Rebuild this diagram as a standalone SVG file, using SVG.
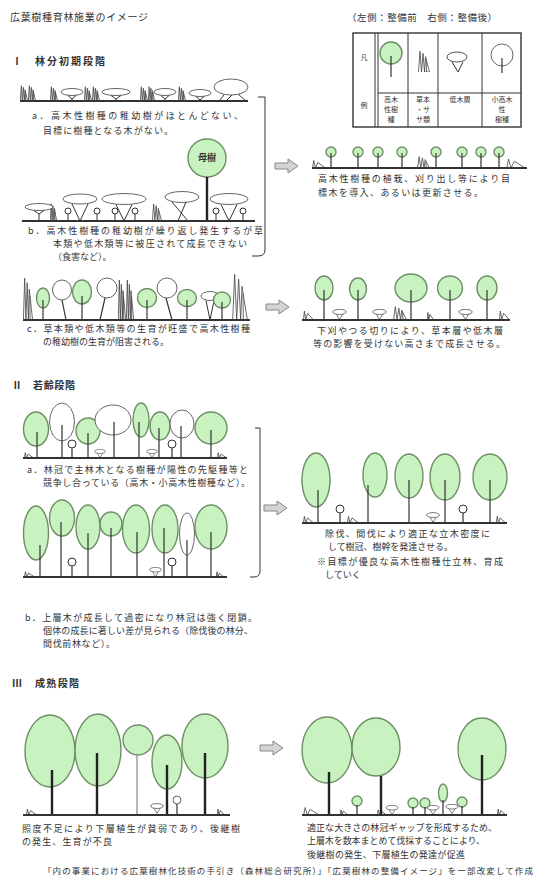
<svg xmlns="http://www.w3.org/2000/svg" width="537" height="894" viewBox="0 0 537 894">
<style>
  .g{fill:#c8f2c0;stroke:#6e8f66;stroke-width:1.4}
  .w{fill:#fff;stroke:#666;stroke-width:1}
  .t{stroke:#333;stroke-width:1.2;fill:none}
  .tg{stroke:#888;stroke-width:1.2;fill:none}
  .tk{stroke:#222;stroke-width:2.4;fill:none}
  .gnd{stroke:#333;stroke-width:2.2}
  .ln{stroke:#333;stroke-width:1;fill:none}
  .txt{font-family:"Noto Sans CJK JP","Noto Sans CJK SC",sans-serif;font-size:9px;fill:#333}
  .hd{font-size:10px;font-weight:bold}
  .sm{font-size:7px}
  .arw{fill:#d4d4d4;stroke:#888;stroke-width:1}
  .gr{fill:none;stroke:#444;stroke-width:0.8}
</style>
<defs>
  <!-- tall grass / bamboo-grass clump -->
  <symbol id="grass" viewBox="0 0 12 20" preserveAspectRatio="none">
    <path class="gr" vector-effect="non-scaling-stroke" d="M0.5,20 L2,1 L3.5,20 M3.5,20 L5,3 L6.5,20 M6.5,20 L11.5,20 L7.5,6 Z M8.5,20 L8.2,9"/>
  </symbol>
  <!-- low grass at ground level -->
  <symbol id="low" viewBox="0 0 12 8" preserveAspectRatio="none">
    <path class="gr" vector-effect="non-scaling-stroke" d="M0.5,8 L1.5,2 L3,8 M3,8 L11.5,8 L5,3.5 Z"/>
  </symbol>
  <!-- small shrub -->
  <symbol id="shrub" viewBox="0 0 16 12">
    <ellipse cx="8" cy="3.2" rx="7.3" ry="2.8" fill="#fff" stroke="#555" stroke-width="0.9"/>
    <path d="M4.5,5.8 L8,11.5 L11.5,5.8" fill="none" stroke="#555" stroke-width="0.9"/>
  </symbol>
  <!-- hollow block arrow -->
  <path id="arrow" class="arw" d="M0,4 H13 V0 L23,7 L13,14 V10 H0 Z"/>
</defs>

<!-- headings -->
<g id="titles" class="txt">
  <text x="10" y="21" font-size="10" textLength="138" lengthAdjust="spacing">広葉樹種育林施業のイメージ</text>
  <text x="347" y="21" font-size="9.5" textLength="150" lengthAdjust="spacing">（左側：整備前　右側：整備後）</text>
  <text x="12" y="65" class="hd">Ⅰ</text>
  <text x="35" y="65" class="hd" textLength="70" lengthAdjust="spacing">林分初期段階</text>
  <text x="12" y="389" class="hd">Ⅱ</text>
  <text x="33" y="389" class="hd" textLength="42" lengthAdjust="spacing">若齢段階</text>
  <text x="12" y="687" class="hd">Ⅲ</text>
  <text x="35" y="687" class="hd" textLength="44" lengthAdjust="spacing">成熟段階</text>
</g>

<!-- legend table -->
<g id="legend">
  <rect x="353" y="33" width="168" height="94" fill="#fff" stroke="#333" stroke-width="1.4"/>
  <path class="ln" d="M375,33 V127 M378,33 V127 M408,33 V127 M438,33 V127 M482,33 V127 M378,93 H521"/>
  <circle class="g" cx="391" cy="53" r="11"/>
  <path class="t" d="M391,56 V77"/>
  <use href="#grass" x="418" y="50" width="12" height="22"/>
  <ellipse cx="457" cy="57" rx="10" ry="5" fill="#fff" stroke="#555"/>
  <path class="ln" d="M452,62 L458,72 L463,62"/>
  <circle class="w" cx="502" cy="55" r="11"/>
  <path class="t" d="M502,58 V73"/>
  <g class="txt sm" text-anchor="middle">
    <text x="364" y="60">凡</text>
    <text x="364" y="108">例</text>
    <text x="391" y="102">高木</text>
    <text x="391" y="112">性樹</text>
    <text x="391" y="122">種</text>
    <text x="423" y="102">草本</text>
    <text x="423" y="112">・サ</text>
    <text x="423" y="122">サ類</text>
    <text x="460" y="102">低木層</text>
    <text x="502" y="102">小高木</text>
    <text x="502" y="112">性</text>
    <text x="502" y="122">樹種</text>
  </g>
</g>

<!-- I-a : grass and shrubs only -->
<g id="stage1-a">
  <use href="#grass" x="20" y="85" width="8" height="16"/>
  <use href="#grass" x="28" y="85" width="8" height="16"/>
  <use href="#grass" x="50" y="86" width="8" height="15"/>
  <use href="#grass" x="84" y="86" width="8" height="15"/>
  <use href="#grass" x="92" y="86" width="8" height="15"/>
  <use href="#grass" x="140" y="86" width="8" height="15"/>
  <use href="#grass" x="148" y="86" width="7" height="15"/>
  <use href="#grass" x="178" y="86" width="8" height="15"/>
  <ellipse class="w" cx="72" cy="92" rx="11" ry="3.5"/>
  <path class="ln" d="M68,95.5 L72,99 L76,95.5 M72,99 V101"/>
  <ellipse class="w" cx="116" cy="92" rx="14" ry="3.5"/>
  <path class="ln" d="M111,95.5 L116,99 L121,95.5 M116,99 V101"/>
  <ellipse class="w" cx="165" cy="92" rx="11" ry="3.5"/>
  <path class="ln" d="M161,95.5 L165,99 L169,95.5 M165,99 V101"/>
  <ellipse class="w" cx="200" cy="93" rx="11" ry="3.5"/>
  <path class="ln" d="M196,96.5 L200,100 L204,96.5"/>
  <ellipse class="w" cx="231" cy="87" rx="17" ry="8"/>
  <path class="ln" d="M224,95 L219,101 M232,95 L226,101 M238,94 L246,101"/>
  <line class="gnd" x1="20" y1="101" x2="248" y2="101"/>
  <g class="txt">
    <text x="32" y="119" textLength="211" lengthAdjust="spacing">a．高木性樹種の稚幼樹がほとんどない、</text>
    <text x="43" y="134" textLength="130" lengthAdjust="spacing">目標に樹種となる木がない。</text>
  </g>
</g>

<!-- I-b : suppressed seedlings with a mother tree -->
<g id="stage1-b">
  <use href="#grass" x="50" y="203" width="7" height="18"/>
  <use href="#grass" x="152" y="203" width="10" height="18"/>
  <ellipse class="w" cx="39" cy="207" rx="14" ry="3.5"/>
  <path class="ln" d="M34,210.5 L39,214 L44,210.5 M39,214 V221"/>
  <ellipse class="w" cx="80" cy="199" rx="17" ry="5"/>
  <path class="ln" d="M72,204 L80,221 M88,204 L80,221"/>
  <ellipse class="w" cx="124" cy="199" rx="22" ry="5.5"/>
  <path class="ln" d="M116,204.5 L124,221 M132,204.5 L124,221"/>
  <ellipse class="w" cx="182" cy="197" rx="17" ry="5.5"/>
  <path class="ln" d="M172,202 L188,221 M186,202 L178,221"/>
  <ellipse class="w" cx="229" cy="199" rx="19" ry="5.5"/>
  <path class="ln" d="M221,204.5 L229,221 M237,204.5 L229,221"/>
  <g class="ln">
    <circle cx="68" cy="211" r="3" fill="#fff"/><path d="M68,214 V221"/>
    <circle cx="97" cy="211" r="3" fill="#fff"/><path d="M97,214 V221"/>
    <circle cx="115" cy="211" r="3" fill="#fff"/><path d="M115,214 V221"/>
    <circle cx="135" cy="211" r="3" fill="#fff"/><path d="M135,214 V221"/>
    <circle cx="216" cy="211" r="3" fill="#fff"/><path d="M216,214 V221"/>
    <circle cx="243" cy="211" r="3" fill="#fff"/><path d="M243,214 V221"/>
  </g>
  <circle class="g" cx="207" cy="158" r="19"/>
  <text class="txt" x="207" y="161" text-anchor="middle" font-weight="bold">母樹</text>
  <path class="tk" d="M207,177 V221"/>
  <line class="gnd" x1="22" y1="221" x2="255" y2="221"/>
  <g class="txt">
    <text x="28" y="234" textLength="235" lengthAdjust="spacing">b．高木性樹種の稚幼樹が繰り返し発生するが草</text>
    <text x="53" y="247" textLength="194" lengthAdjust="spacing">本類や低木類等に被圧されて成長できない</text>
    <text x="53" y="260">（食害など）。</text>
  </g>
</g>

<!-- I-ab after treatment -->
<g id="stage1-ab-after">
  <use href="#low" x="312" y="158" width="14" height="10"/>
  <use href="#grass" x="417" y="156" width="13" height="12"/>
  <use href="#low" x="506" y="156" width="20" height="12"/>
  <g class="g">
    <circle cx="331" cy="152" r="5"/><circle cx="358" cy="152" r="5"/>
    <circle cx="378" cy="152" r="5"/><circle cx="402" cy="152" r="5"/>
    <circle cx="436" cy="152" r="5"/><circle cx="462" cy="152" r="5"/>
    <circle cx="481" cy="152" r="5"/><circle cx="499" cy="152" r="5"/>
  </g>
  <path class="t" d="M331,153 V168 M358,153 V168 M378,153 V168 M402,153 V168 M436,153 V168 M462,153 V168 M481,153 V168 M499,153 V168"/>
  <line class="gnd" x1="312" y1="168" x2="527" y2="168"/>
  <g class="txt">
    <text x="318" y="182" textLength="192" lengthAdjust="spacing">高木性樹種の植栽、刈り出し等により目</text>
    <text x="318" y="196" textLength="165" lengthAdjust="spacing">標木を導入、あるいは更新させる。</text>
  </g>
</g>

<!-- I-c : dense herbs and shrubs -->
<g id="stage1-c">
  <use href="#grass" x="23" y="276" width="10" height="44"/>
  <use href="#grass" x="118" y="278" width="8" height="42"/>
  <use href="#grass" x="126" y="278" width="8" height="42"/>
  <use href="#grass" x="232" y="272" width="16" height="48"/>
  <ellipse class="g" cx="43" cy="298" rx="6.5" ry="10"/>
  <path class="t" d="M43,300 V320"/>
  <ellipse class="w" cx="62" cy="290" rx="9.5" ry="10"/>
  <path class="t" d="M62,300 L66,320"/>
  <ellipse class="g" cx="82" cy="292" rx="9.5" ry="12"/>
  <path class="t" d="M82,296 V320"/>
  <ellipse class="w" cx="107" cy="288" rx="10" ry="10"/>
  <path class="t" d="M105,298 L100,320"/>
  <ellipse class="g" cx="147" cy="298" rx="9.5" ry="9.5"/>
  <path class="t" d="M147,300 V320"/>
  <ellipse class="w" cx="167" cy="288" rx="10" ry="10"/>
  <path class="t" d="M166,298 L172,320"/>
  <ellipse class="g" cx="187" cy="298" rx="9.5" ry="8.5"/>
  <path class="t" d="M187,300 V320"/>
  <ellipse class="w" cx="210" cy="296" rx="9" ry="4.5"/>
  <path class="ln" d="M206,300.5 L210,320 M214,300.5 L210,320"/>
  <ellipse class="g" cx="222" cy="300" rx="8.5" ry="8"/>
  <path class="t" d="M222,302 V320"/>
  <line class="gnd" x1="23" y1="320" x2="250" y2="320"/>
  <g class="txt">
    <text x="27" y="332" textLength="223" lengthAdjust="spacing">c．草本類や低木類等の生育が旺盛で高木性樹種</text>
    <text x="43" y="345">の稚幼樹の生育が阻害される。</text>
  </g>
</g>

<!-- I-c after weeding -->
<g id="stage1-c-after">
  <use href="#low" x="303" y="308" width="11" height="12"/>
  <use href="#grass" x="393" y="306" width="14" height="14"/>
  <use href="#low" x="427" y="310" width="7" height="10"/>
  <use href="#low" x="499" y="308" width="11" height="12"/>
  <use href="#shrub" x="332" y="309" width="15" height="11"/>
  <use href="#shrub" x="372" y="309" width="15" height="11"/>
  <use href="#shrub" x="458" y="309" width="15" height="11"/>
  <ellipse class="g" cx="324" cy="288" rx="9" ry="12"/>
  <ellipse class="g" cx="358" cy="289" rx="8.5" ry="11"/>
  <ellipse class="g" cx="411" cy="288" rx="16" ry="14"/>
  <ellipse class="g" cx="450" cy="288" rx="12.5" ry="12"/>
  <ellipse class="g" cx="487" cy="288" rx="10" ry="12"/>
  <path class="t" d="M324,290 V320 M358,290 V320 M411,290 V320 M450,290 V320 M487,290 V320"/>
  <line class="gnd" x1="302" y1="320" x2="510" y2="320"/>
  <g class="txt">
    <text x="317" y="334" textLength="186" lengthAdjust="spacing">下刈やつる切りにより、草本層や低木層</text>
    <text x="313" y="347" textLength="192" lengthAdjust="spacing">等の影響を受けない高さまで成長させる。</text>
  </g>
</g>

<!-- II-a : competing with pioneer trees -->
<g id="stage2-a">
  <use href="#low" x="24" y="451" width="10" height="7"/>
  <use href="#low" x="217" y="451" width="10" height="7"/>
  <use href="#shrub" x="94" y="449" width="12" height="9"/>
  <use href="#shrub" x="146" y="449" width="12" height="9"/>
  <ellipse class="g" cx="36" cy="429" rx="12.5" ry="17"/>
  <ellipse class="w" cx="62" cy="422" rx="12.5" ry="19"/>
  <ellipse class="g" cx="88" cy="431" rx="12" ry="13"/>
  <ellipse class="w" cx="113" cy="420" rx="18" ry="15"/>
  <ellipse class="g" cx="141" cy="420" rx="8" ry="17"/>
  <ellipse class="g" cx="160" cy="426" rx="10" ry="14"/>
  <ellipse class="w" cx="182" cy="424" rx="12" ry="14"/>
  <ellipse class="g" cx="211" cy="428" rx="16" ry="16"/>
  <g class="ln">
    <circle cx="72" cy="444" r="4" fill="#fff"/>
    <circle cx="172" cy="444" r="4" fill="#fff"/>
  </g>
  <path class="t" d="M37,432 V458 M62,425 V458 M88,433 V458 M114,422 V458 M139,422 V458 M159,428 V458 M181,426 V458 M211,430 V458 M72,448 V458 M172,448 V458"/>
  <line class="gnd" x1="23" y1="458" x2="227" y2="458"/>
  <g class="txt">
    <text x="27" y="473" textLength="221" lengthAdjust="spacing">a．林冠で主林木となる樹種が陽性の先駆種等と</text>
    <text x="43" y="486" textLength="207" lengthAdjust="spacing">競争し合っている（高木・小高木性樹種など）。</text>
  </g>
</g>

<!-- II-b : closed, overcrowded canopy -->
<g id="stage2-b">
  <use href="#low" x="24" y="570" width="11" height="7"/>
  <use href="#low" x="216" y="570" width="8" height="7"/>
  <use href="#shrub" x="149" y="567" width="13" height="10"/>
  <ellipse class="g" cx="36" cy="533" rx="12.5" ry="27"/>
  <ellipse class="g" cx="62" cy="518" rx="12.5" ry="18"/>
  <ellipse class="g" cx="88" cy="527" rx="12" ry="22"/>
  <ellipse class="g" cx="111" cy="524" rx="11" ry="12"/>
  <ellipse class="g" cx="136" cy="529" rx="13.5" ry="24"/>
  <ellipse class="g" cx="165" cy="529" rx="13" ry="24"/>
  <ellipse class="w" cx="187" cy="534" rx="7.5" ry="21"/>
  <ellipse class="g" cx="211" cy="527" rx="16" ry="22"/>
  <g class="ln">
    <circle cx="72" cy="562" r="4" fill="#fff"/>
    <circle cx="172" cy="562" r="4" fill="#fff"/>
  </g>
  <path class="t" d="M40,545 V577 M61,522 V577 M88,533 V577 M111,528 V577 M137,532 V577 M164,528 V577 M187,540 V577 M211,532 V577 M72,566 V577 M172,566 V577"/>
  <line class="gnd" x1="23" y1="577" x2="227" y2="577"/>
  <g class="txt">
    <text x="25" y="621" textLength="232" lengthAdjust="spacing">b．上層木が成長して過密になり林冠は強く閉鎖。</text>
    <text x="43" y="634" textLength="210" lengthAdjust="spacing">個体の成長に著しい差が見られる（除伐後の林分、</text>
    <text x="43" y="647" textLength="72" lengthAdjust="spacing">間伐前林など）。</text>
  </g>
</g>

<!-- II after thinning -->
<g id="stage2-after">
  <use href="#low" x="303" y="514" width="11" height="9"/>
  <use href="#low" x="347" y="514" width="12" height="9"/>
  <use href="#low" x="496" y="514" width="10" height="9"/>
  <use href="#shrub" x="426" y="512" width="14" height="11"/>
  <ellipse class="g" cx="316" cy="480" rx="14" ry="27"/>
  <ellipse class="g" cx="375" cy="475" rx="12" ry="22"/>
  <ellipse class="g" cx="409" cy="476" rx="14" ry="22"/>
  <ellipse class="g" cx="445" cy="477" rx="15" ry="23"/>
  <ellipse class="g" cx="490" cy="477" rx="17" ry="23"/>
  <g class="ln">
    <circle cx="340" cy="509" r="4" fill="#fff"/>
    <circle cx="463" cy="509" r="4" fill="#fff"/>
  </g>
  <path class="t" d="M318,490 V523 M368,485 V523 M409,480 V523 M445,480 V523 M490,480 V523 M340,513 V523 M463,513 V523"/>
  <line class="gnd" x1="302" y1="523" x2="507" y2="523"/>
  <g class="txt">
    <text x="325" y="537" textLength="165" lengthAdjust="spacing">除伐、間伐により適正な立木密度に</text>
    <text x="328" y="550" textLength="125" lengthAdjust="spacing">して樹冠、樹幹を発達させる。</text>
    <text x="317" y="565" textLength="186" lengthAdjust="spacing">※目標が優良な高木性樹種仕立林、育成</text>
    <text x="325" y="578">していく</text>
  </g>
</g>

<!-- III : mature stand, before -->
<g id="stage3-before">
  <use href="#low" x="26" y="807" width="11" height="8"/>
  <use href="#low" x="217" y="807" width="8" height="8"/>
  <use href="#shrub" x="150" y="803" width="14" height="11"/>
  <ellipse class="g" cx="50" cy="751" rx="25" ry="36"/>
  <ellipse class="g" cx="98" cy="750" rx="23" ry="36"/>
  <circle class="g" cx="138" cy="740" r="15"/>
  <ellipse class="g" cx="167" cy="762" rx="15" ry="27"/>
  <ellipse class="g" cx="205" cy="746" rx="23" ry="32"/>
  <circle class="w" cx="177" cy="800" r="4"/>
  <path class="t" d="M177,804 V815"/>
  <path class="tk" d="M52,770 V815 M97,753 V815 M167,765 V815 M205,753 V815"/>
  <path class="tg" d="M137,755 V815"/>
  <line class="gnd" x1="23" y1="815" x2="230" y2="815"/>
  <g class="txt">
    <text x="22" y="832" textLength="218" lengthAdjust="spacing">照度不足により下層植生が貧弱であり、後継樹</text>
    <text x="22" y="845" textLength="90" lengthAdjust="spacing">の発生、生育が不良</text>
  </g>
</g>

<!-- III : after gap creation -->
<g id="stage3-after">
  <use href="#low" x="303" y="805" width="17" height="10"/>
  <use href="#low" x="340" y="808" width="8" height="7"/>
  <use href="#low" x="377" y="808" width="10" height="7"/>
  <use href="#low" x="497" y="807" width="9" height="8"/>
  <use href="#shrub" x="385" y="805" width="14" height="10"/>
  <use href="#shrub" x="426" y="805" width="14" height="10"/>
  <use href="#shrub" x="445" y="804" width="14" height="10"/>
  <ellipse class="g" cx="327" cy="750" rx="25" ry="33"/>
  <ellipse class="g" cx="376" cy="747" rx="24" ry="29"/>
  <ellipse class="g" cx="482" cy="749" rx="24" ry="31"/>
  <g class="g" stroke-width="1">
    <circle cx="357" cy="801" r="5"/>
    <circle cx="413" cy="803" r="5"/>
    <circle cx="425" cy="803" r="5"/>
    <ellipse cx="443" cy="793" rx="4.5" ry="9"/>
    <circle cx="462" cy="802" r="5"/>
  </g>
  <path class="t" d="M357,805 V815 M413,807 V815 M425,807 V815 M443,800 V815 M462,806 V815"/>
  <path class="tk" d="M329,772 V815 M381,776 V815 M482,755 V815"/>
  <line class="gnd" x1="302" y1="815" x2="507" y2="815"/>
  <g class="txt">
    <text x="307" y="831" textLength="190" lengthAdjust="spacing">適正な大きさの林冠ギャップを形成するため、</text>
    <text x="307" y="844" textLength="178" lengthAdjust="spacing">上層木を数本まとめて伐採することにより、</text>
    <text x="307" y="858" textLength="158" lengthAdjust="spacing">後継樹の発生、下層植生の発達が促進</text>
  </g>
</g>

<!-- source note -->
<g id="source" class="txt">
  <text x="43" y="874" font-size="8.5" textLength="490" lengthAdjust="spacing">「内の事業における広葉樹林化技術の手引き（森林総合研究所）」「広葉樹林の整備イメージ」を一部改変して作成</text>
</g>

<!-- brackets and arrows -->
<g id="connectors">
  <path class="ln" d="M258,97 H265 V250 Q265,256 258,256 H252"/>
  <path class="ln" d="M255,428 H260 V571 Q260,577 254,577 H250"/>
  <use href="#arrow" x="275" y="159"/>
  <use href="#arrow" x="266" y="300"/>
  <use href="#arrow" x="264" y="501"/>
  <use href="#arrow" x="260" y="741"/>
</g>
</svg>
